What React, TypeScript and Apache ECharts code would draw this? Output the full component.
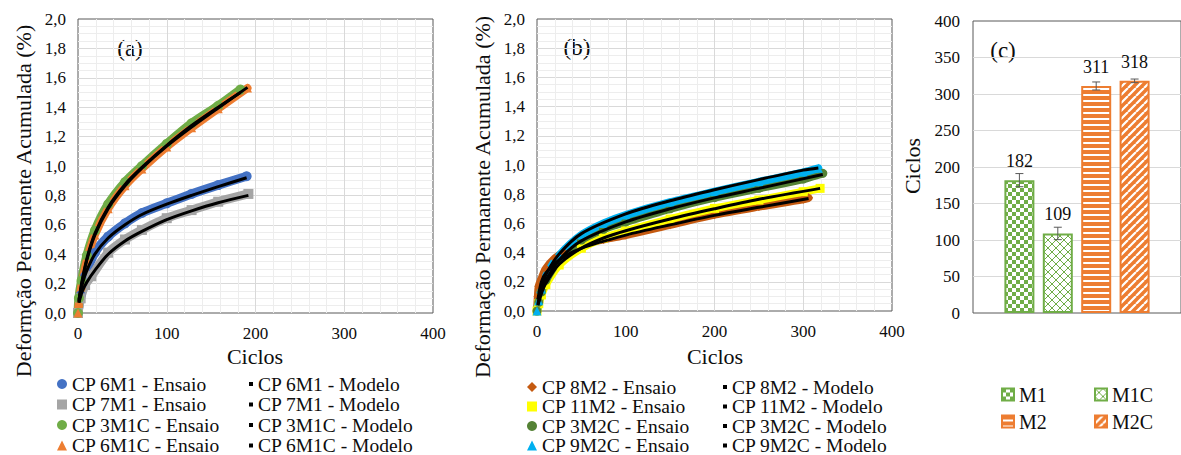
import React, { useEffect, useRef } from 'react';
import * as echarts from 'echarts';

type Pt = [number, number];

// ---- (a) M1 / M1C specimens: accumulated permanent deformation (%) vs cycles
const cp6M1Ensaio: Pt[] = [[0, 0], [3, 0.12], [8, 0.25], [19, 0.41], [34, 0.52], [53, 0.61], [72, 0.68], [100, 0.746], [128, 0.81], [158, 0.87], [190, 0.93]];
const cp7M1Ensaio: Pt[] = [[0, 0], [3, 0.1], [8, 0.19], [15, 0.25], [34, 0.41], [53, 0.5], [72, 0.565], [100, 0.645], [128, 0.7], [158, 0.757], [192, 0.81]];
const cp3M1CEnsaio: Pt[] = [[0, 0], [1, 0.1], [4, 0.22], [10, 0.39], [19, 0.56], [34, 0.74], [53, 0.89], [72, 1.0], [100, 1.15], [128, 1.29], [158, 1.41], [183, 1.52]];
const cp6M1CEnsaio: Pt[] = [[0, 0], [1, 0.07], [4, 0.19], [10, 0.36], [19, 0.53], [34, 0.71], [53, 0.865], [72, 0.98], [100, 1.13], [128, 1.26], [158, 1.39], [191, 1.53]];
const cp6M1Modelo: Pt[] = [[1, 0.09], [5, 0.2], [10, 0.29], [19, 0.4], [34, 0.51], [53, 0.6], [72, 0.67], [100, 0.74], [128, 0.8], [158, 0.86], [190, 0.92]];
const cp7M1Modelo: Pt[] = [[1, 0.07], [5, 0.15], [10, 0.21], [19, 0.29], [34, 0.4], [53, 0.49], [72, 0.555], [100, 0.635], [128, 0.695], [158, 0.75], [192, 0.8]];
const cp3M1CModelo: Pt[] = [[1, 0.08], [4, 0.2], [10, 0.37], [19, 0.54], [34, 0.72], [53, 0.875], [72, 0.99], [100, 1.14], [128, 1.275], [158, 1.4], [183, 1.5]];
const cp6M1CModelo: Pt[] = [[1, 0.07], [4, 0.19], [10, 0.36], [19, 0.53], [34, 0.71], [53, 0.865], [72, 0.985], [100, 1.135], [128, 1.265], [158, 1.395], [191, 1.535]];

// ---- (b) M2 / M2C specimens
const cp8M2Ensaio: Pt[] = [[0, 0], [1, 0.1], [2, 0.17], [5, 0.22], [10, 0.29], [20, 0.36], [30, 0.4], [50, 0.45], [75, 0.49], [100, 0.52], [150, 0.59], [200, 0.66], [250, 0.715], [300, 0.765], [306, 0.775]];
const cp11M2Ensaio: Pt[] = [[0, 0], [2, 0.05], [5, 0.11], [10, 0.18], [25, 0.315], [50, 0.43], [75, 0.5], [100, 0.548], [150, 0.63], [200, 0.703], [250, 0.76], [300, 0.817], [319, 0.84]];
const cp3M2CEnsaio: Pt[] = [[0, 0], [2, 0.06], [5, 0.13], [10, 0.21], [25, 0.35], [50, 0.486], [75, 0.56], [100, 0.61], [150, 0.7], [200, 0.776], [250, 0.84], [300, 0.904], [322, 0.943]];
const cp9M2CEnsaio: Pt[] = [[0, 0], [2, 0.07], [5, 0.15], [11, 0.25], [25, 0.38], [50, 0.52], [75, 0.6], [100, 0.657], [150, 0.745], [200, 0.817], [250, 0.885], [300, 0.95], [317, 0.977]];
const cp8M2Modelo: Pt[] = [[1, 0.08], [5, 0.2], [10, 0.26], [25, 0.35], [50, 0.43], [100, 0.52], [150, 0.59], [200, 0.655], [250, 0.71], [306, 0.77]];
const cp11M2Modelo: Pt[] = [[1, 0.04], [5, 0.12], [10, 0.19], [25, 0.32], [50, 0.43], [75, 0.5], [100, 0.55], [150, 0.63], [200, 0.7], [250, 0.765], [319, 0.84]];
const cp3M2CModelo: Pt[] = [[1, 0.04], [5, 0.13], [10, 0.21], [25, 0.35], [50, 0.48], [100, 0.61], [150, 0.7], [200, 0.775], [250, 0.84], [322, 0.935]];
const cp9M2CModelo: Pt[] = [[1, 0.05], [5, 0.16], [11, 0.26], [25, 0.39], [50, 0.53], [100, 0.665], [150, 0.755], [200, 0.83], [250, 0.9], [300, 0.965], [317, 0.98]];

// ---- (c) cycles reached per mixture (mean and error)
const barCategories = ['M1', 'M1C', 'M2', 'M2C'];
const barMeans = [182, 109, 311, 318];
const barErrors = [9, 8.5, 5.5, 2.5];

const FONT = '"Liberation Serif", "Times New Roman", serif';
const TEXT = '#0d0d0d';
const GREEN = '#70AD47';
const ORANGE = '#ED7D31';

function tile(w: number, h: number, draw: (ctx: CanvasRenderingContext2D) => void) {
  const c = document.createElement('canvas');
  c.width = w;
  c.height = h;
  const ctx = c.getContext('2d') as CanvasRenderingContext2D;
  draw(ctx);
  return { image: c, repeat: 'repeat', imageWidth: w, imageHeight: h } as any;
}

function makePatterns() {
  const checker = tile(8, 8, (ctx) => {
    ctx.fillStyle = '#ffffff';
    ctx.fillRect(0, 0, 8, 8);
    ctx.fillStyle = GREEN;
    ctx.fillRect(0, 0, 4, 4);
    ctx.fillRect(4, 4, 4, 4);
  });
  const lattice = tile(8, 8, (ctx) => {
    ctx.fillStyle = '#ffffff';
    ctx.fillRect(0, 0, 8, 8);
    ctx.strokeStyle = GREEN;
    ctx.lineWidth = 1;
    ctx.beginPath();
    ctx.moveTo(0, 0);
    ctx.lineTo(8, 8);
    ctx.moveTo(8, 0);
    ctx.lineTo(0, 8);
    ctx.stroke();
  });
  const hStripes = tile(6, 6, (ctx) => {
    ctx.fillStyle = '#ffffff';
    ctx.fillRect(0, 0, 6, 6);
    ctx.fillStyle = ORANGE;
    ctx.fillRect(0, 0, 6, 4);
  });
  const dStripes = tile(8, 8, (ctx) => {
    ctx.fillStyle = ORANGE;
    ctx.fillRect(0, 0, 8, 8);
    ctx.strokeStyle = '#ffffff';
    ctx.lineWidth = 2.2;
    ctx.beginPath();
    for (const k of [-8, 0, 8]) {
      ctx.moveTo(k, 8);
      ctx.lineTo(k + 8, 0);
    }
    ctx.stroke();
  });
  return [checker, lattice, hStripes, dStripes];
}

const pct = (v: number) => v.toFixed(1).replace('.', ',');

function valueX(gi: number) {
  return {
    type: 'value', gridIndex: gi, min: 0, max: 400, interval: 100,
    axisLine: { show: false }, axisTick: { show: false },
    axisLabel: { fontFamily: FONT, fontSize: 17, color: TEXT, margin: 12 },
    splitLine: { show: true, showMinLine: false, showMaxLine: false, lineStyle: { color: '#D9D9D9', width: 1 } },
    minorTick: { show: false, splitNumber: 5 },
    minorSplitLine: { show: true, lineStyle: { color: '#EDEDED', width: 1 } },
  };
}

function valueY(gi: number) {
  return {
    type: 'value', gridIndex: gi, min: 0, max: 2, interval: 0.2,
    axisLine: { show: false }, axisTick: { show: false },
    axisLabel: { fontFamily: FONT, fontSize: 17, color: TEXT, margin: 12, formatter: pct },
    splitLine: { show: true, showMinLine: false, showMaxLine: false, lineStyle: { color: '#D9D9D9', width: 1 } },
    minorTick: { show: false, splitNumber: 4 },
    minorSplitLine: { show: true, lineStyle: { color: '#EDEDED', width: 1 } },
  };
}

function ensaio(name: string, gi: number, data: Pt[], color: string, symbol: string, width: number) {
  return {
    type: 'line', name, xAxisIndex: gi, yAxisIndex: gi, data,
    smooth: 0.3, symbol, symbolSize: width + 1, showSymbol: true, showAllSymbol: true,
    itemStyle: { color }, lineStyle: { color, width, cap: 'round', join: 'round' },
    z: 2, silent: true,
  };
}

function modelo(name: string, gi: number, data: Pt[]) {
  return {
    type: 'line', name, xAxisIndex: gi, yAxisIndex: gi, data,
    smooth: 0.3, showSymbol: false, symbol: 'rect',
    itemStyle: { color: '#000000' }, lineStyle: { color: '#000000', width: 3 },
    z: 4, silent: true,
  };
}

// one legend entry placed with its row centred on `cy`
function legendItem(name: string, icon: string, left: number, cy: number, iconSize: number, fontSize: number) {
  return {
    orient: 'horizontal', left, top: cy - 8, padding: 0, selectedMode: false,
    itemWidth: iconSize, itemHeight: iconSize,
    textStyle: { fontFamily: FONT, fontSize, color: TEXT, lineHeight: 16 },
    data: [{ name, icon }],
  };
}

function title(text: string, x: number, y: number, size: number, rotate = false) {
  return {
    type: 'text', x, y, rotation: rotate ? Math.PI / 2 : 0, silent: true,
    style: { text, font: `${size}px ${FONT}`, fill: TEXT, textAlign: 'center', textVerticalAlign: 'middle' },
  };
}

// legend rows
const rowsA = [382, 402.5, 423, 443.5];
const rowsB = [385, 404.5, 424, 443.5];
const rowsC = [392.5, 419.5];

export default function App() {
  const ref = useRef<HTMLDivElement>(null);

  useEffect(() => {
    if (!ref.current) return;
    const chart = echarts.init(ref.current, undefined, { renderer: 'svg' });
    const patterns = makePatterns();
    const barBorders = [GREEN, GREEN, ORANGE, ORANGE];
    const barWidth = 30;
    const barGapRatio = 0.28;
    const barStep = barWidth * (1 + barGapRatio);

    const bars = barCategories.map((name, i) => ({
      type: 'bar', name, xAxisIndex: 2, yAxisIndex: 2, data: [barMeans[i]],
      barWidth, barGap: `${barGapRatio * 100}%`,
      itemStyle: { color: patterns[i], borderColor: barBorders[i], borderWidth: 2 },
      label: { show: true, position: 'top', distance: 10, fontFamily: FONT, fontSize: 18, color: TEXT },
      silent: true, z: 2,
    }));

    const errorBars = {
      type: 'custom', xAxisIndex: 2, yAxisIndex: 2, silent: true, z: 5,
      data: barMeans.map((m, i) => [0, m, barErrors[i]]),
      encode: { x: 0, y: 1 },
      renderItem: (params: any, api: any) => {
        const idx = params.dataIndex;
        const m = api.value(1);
        const e = api.value(2);
        const hi = api.coord([api.value(0), m + e]);
        const lo = api.coord([api.value(0), m - e]);
        const cx = hi[0] + (idx - (barCategories.length - 1) / 2) * barStep;
        const st = { stroke: '#595959', lineWidth: 1 };
        return {
          type: 'group',
          children: [
            { type: 'line', shape: { x1: cx, y1: hi[1], x2: cx, y2: lo[1] }, style: st },
            { type: 'line', shape: { x1: cx - 4, y1: hi[1], x2: cx + 4, y2: hi[1] }, style: st },
            { type: 'line', shape: { x1: cx - 4, y1: lo[1], x2: cx + 4, y2: lo[1] }, style: st },
          ],
        };
      },
    };

    const ensaioA = [['CP 6M1 - Ensaio', 'circle'], ['CP 7M1 - Ensaio', 'rect'], ['CP 3M1C - Ensaio', 'circle'], ['CP 6M1C - Ensaio', 'triangle']];
    const modeloA = ['CP 6M1 - Modelo', 'CP 7M1 - Modelo', 'CP 3M1C - Modelo', 'CP 6M1C - Modelo'];
    const ensaioB = [['CP 8M2 - Ensaio', 'diamond'], ['CP 11M2 - Ensaio', 'rect'], ['CP 3M2C - Ensaio', 'circle'], ['CP 9M2C - Ensaio', 'triangle']];
    const modeloB = ['CP 8M2 - Modelo', 'CP 11M2 - Modelo', 'CP 3M2C - Modelo', 'CP 9M2C - Modelo'];

    const legends = [
      ...ensaioA.map(([n, ic], i) => legendItem(n, ic, 57, rowsA[i], 10, 19.5)),
      ...modeloA.map((n, i) => legendItem(n, 'rect', 249, rowsA[i], 4, 19.5)),
      ...ensaioB.map(([n, ic], i) => legendItem(n, ic, 527, rowsB[i], 10, 19.5)),
      ...modeloB.map((n, i) => legendItem(n, 'rect', 723, rowsB[i], 4, 19.5)),
      legendItem('M1', 'rect', 1001, rowsC[0], 12, 20),
      legendItem('M2', 'rect', 1001, rowsC[1], 12, 20),
      legendItem('M1C', 'rect', 1094, rowsC[0], 12, 20),
      legendItem('M2C', 'rect', 1094, rowsC[1], 12, 20),
    ];

    const option: any = {
      animation: false,
      backgroundColor: '#ffffff',
      grid: [
        { left: 78, top: 19, width: 355, height: 294, show: true, borderColor: '#595959', borderWidth: 1, backgroundColor: 'transparent' },
        { left: 537, top: 19, width: 355, height: 292, show: true, borderColor: '#595959', borderWidth: 1, backgroundColor: 'transparent' },
        { left: 973, top: 21, width: 215, height: 292, show: true, borderColor: '#595959', borderWidth: 1, backgroundColor: 'transparent' },
      ],
      xAxis: [
        valueX(0),
        valueX(1),
        { type: 'category', gridIndex: 2, data: [''], axisLine: { show: false }, axisTick: { show: false }, axisLabel: { show: false } },
      ],
      yAxis: [
        valueY(0),
        valueY(1),
        {
          type: 'value', gridIndex: 2, min: 0, max: 400, interval: 50,
          axisLine: { show: false }, axisTick: { show: false },
          axisLabel: { fontFamily: FONT, fontSize: 17, color: TEXT, margin: 13 },
          splitLine: { show: true, showMinLine: false, showMaxLine: false, lineStyle: { color: '#D9D9D9' } },
        },
      ],
      legend: legends,
      series: [
        ensaio('CP 6M1 - Ensaio', 0, cp6M1Ensaio, '#4472C4', 'circle', 9),
        ensaio('CP 7M1 - Ensaio', 0, cp7M1Ensaio, '#A5A5A5', 'rect', 9),
        ensaio('CP 3M1C - Ensaio', 0, cp3M1CEnsaio, GREEN, 'circle', 9),
        ensaio('CP 6M1C - Ensaio', 0, cp6M1CEnsaio, ORANGE, 'triangle', 8),
        modelo('CP 6M1 - Modelo', 0, cp6M1Modelo),
        modelo('CP 7M1 - Modelo', 0, cp7M1Modelo),
        modelo('CP 3M1C - Modelo', 0, cp3M1CModelo),
        modelo('CP 6M1C - Modelo', 0, cp6M1CModelo),
        ensaio('CP 8M2 - Ensaio', 1, cp8M2Ensaio, '#C55A11', 'diamond', 8),
        ensaio('CP 11M2 - Ensaio', 1, cp11M2Ensaio, '#FFFF00', 'rect', 8),
        ensaio('CP 3M2C - Ensaio', 1, cp3M2CEnsaio, '#548235', 'circle', 8),
        ensaio('CP 9M2C - Ensaio', 1, cp9M2CEnsaio, '#00B0F0', 'triangle', 8),
        modelo('CP 8M2 - Modelo', 1, cp8M2Modelo),
        modelo('CP 11M2 - Modelo', 1, cp11M2Modelo),
        modelo('CP 3M2C - Modelo', 1, cp3M2CModelo),
        modelo('CP 9M2C - Modelo', 1, cp9M2CModelo),
        ...bars,
        errorBars,
      ],
      graphic: [
        title('Deformção Permanente Acumulada (%)', 23, 201, 22, true),
        title('Deformação Permanente Acumulada (%)', 482, 197, 22, true),
        title('Ciclos', 912, 166, 22, true),
        title('Ciclos', 255, 356, 22),
        title('Ciclos', 715, 356, 22),
        title('(a)', 130, 48, 23),
        title('(b)', 577, 47, 23),
        title('(c)', 1003, 50, 23),
      ],
    };

    chart.setOption(option);
    return () => chart.dispose();
  }, []);

  return <div ref={ref} style={{ position: 'absolute', left: 0, top: 0, width: 1181, height: 455 }} />;
}
